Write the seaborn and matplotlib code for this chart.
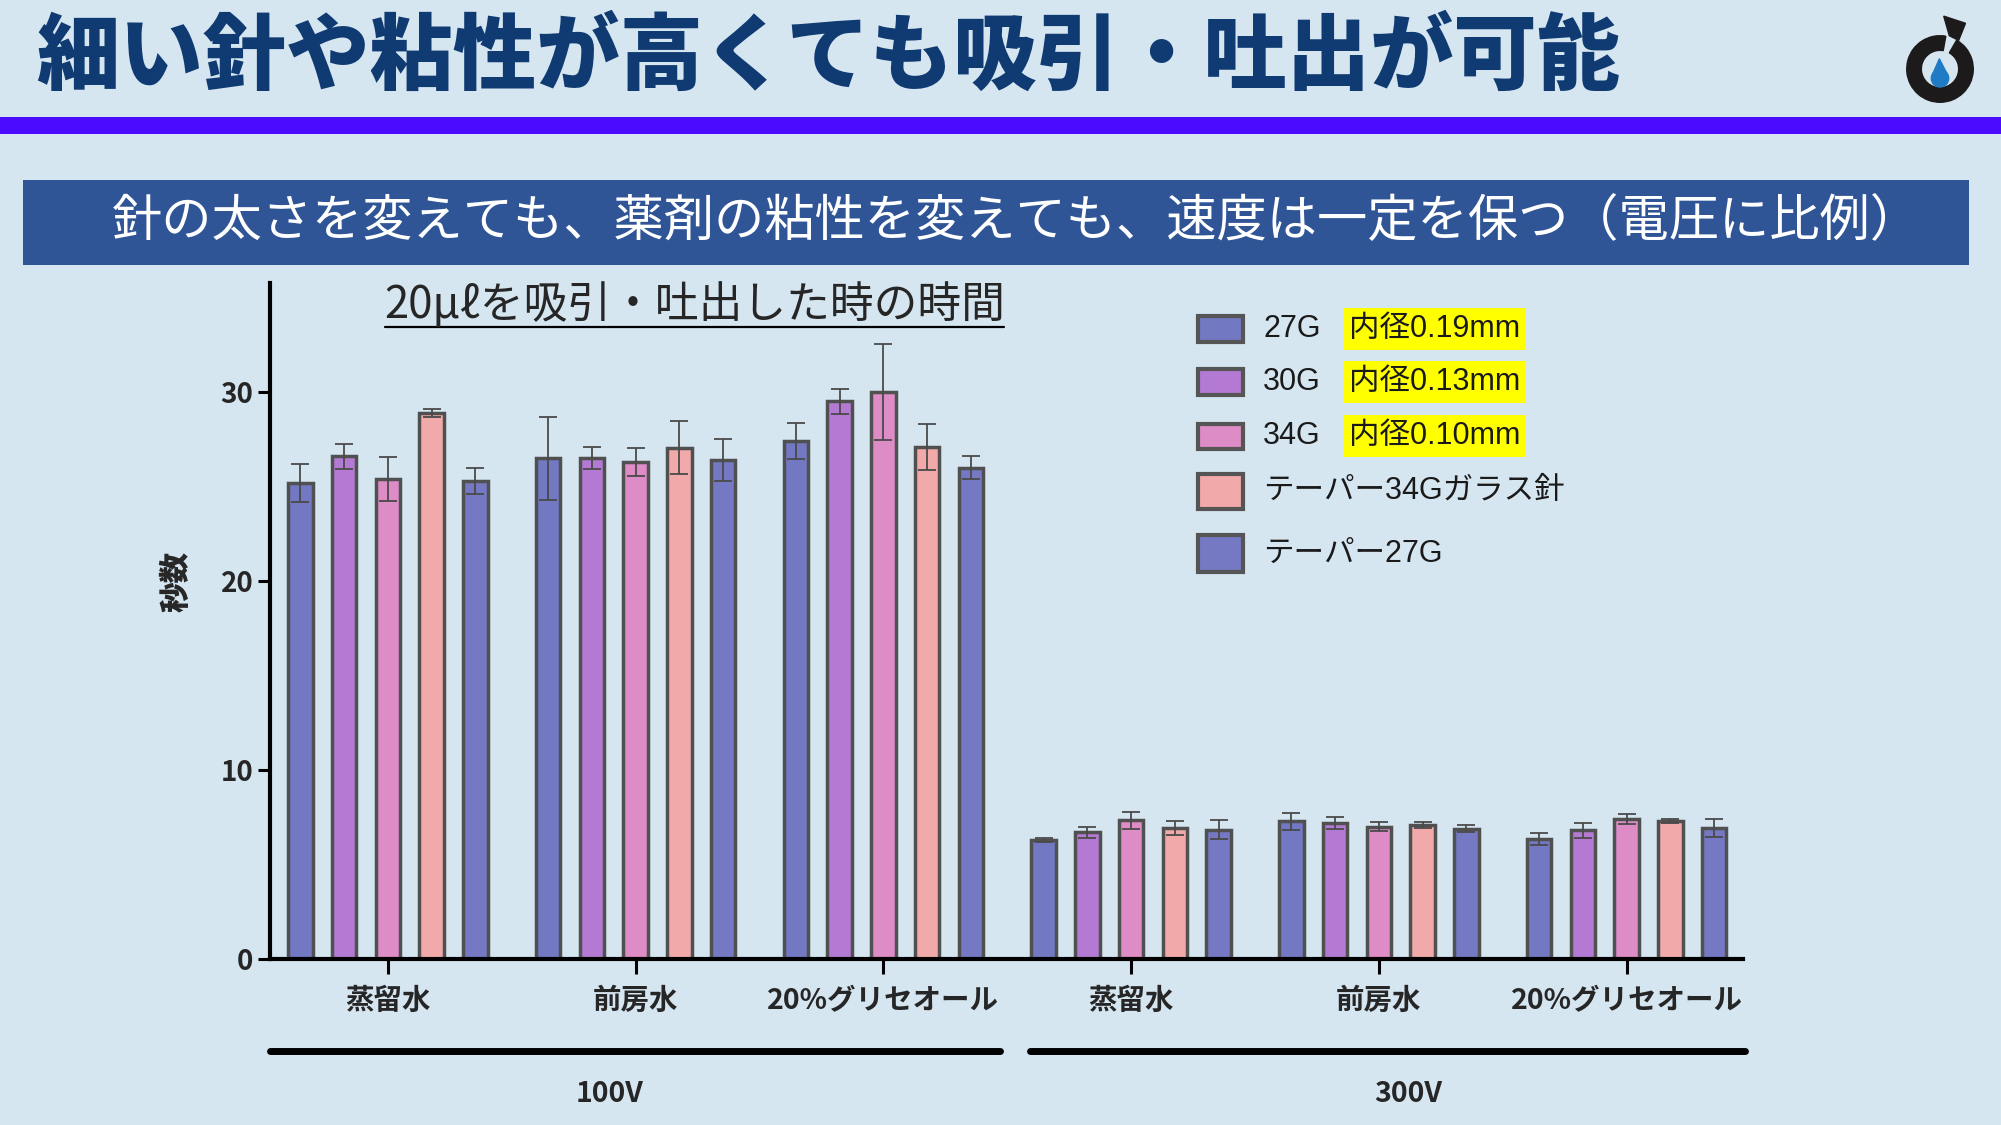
import numpy as np
import pandas as pd
import seaborn as sns
import matplotlib.pyplot as plt
from matplotlib.patches import Rectangle, Wedge, Circle, Polygon
from matplotlib.lines import Line2D

voltages = ['100V', '300V']
liquids = ['蒸留水', '前房水', '20%グリセオール']
needles = ['27G', '30G', '34G', 'テーパー34Gガラス針', 'テーパー27G']
inner_diam = ['内径0.19mm', '内径0.13mm', '内径0.10mm', '', '']
colors = ['#7378c2', '#b47ad3', '#dd8cc6', '#f2a9a9', '#7579c4']

# seconds for 20ul, per needle: 100V (3 liquids) then 300V (3 liquids)
sec_27g = [25.2, 26.5, 27.4, 6.3, 7.3, 6.35]
sec_30g = [26.6, 26.5, 29.5, 6.7, 7.2, 6.8]
sec_34g = [25.4, 26.3, 30.0, 7.35, 7.0, 7.4]
sec_t34 = [28.9, 27.05, 27.1, 6.95, 7.1, 7.3]
sec_t27 = [25.3, 26.4, 26.0, 6.85, 6.9, 6.95]

sd_27g = [1.0, 2.2, 0.95, 0.1, 0.45, 0.33]
sd_30g = [0.65, 0.57, 0.65, 0.3, 0.3, 0.4]
sd_34g = [1.15, 0.74, 2.55, 0.45, 0.23, 0.27]
sd_t34 = [0.2, 1.4, 1.2, 0.37, 0.17, 0.12]
sd_t27 = [0.67, 1.13, 0.62, 0.5, 0.2, 0.47]

yticks = [0, 10, 20, 30]

title = '細い針や粘性が高くても吸引・吐出が可能'
subtitle = '針の太さを変えても、薬剤の粘性を変えても、速度は一定を保つ（電圧に比例）'
chart_title = '20μℓを吸引・吐出した時の時間'

conds = [v + ' ' + l for v in voltages for l in liquids]
means = [sec_27g, sec_30g, sec_34g, sec_t34, sec_t27]
sds = [sd_27g, sd_30g, sd_34g, sd_t34, sd_t27]

rows = []
for n, vals in zip(needles, means):
    for c, v in zip(conds, vals):
        rows.append({'cond': c, 'needle': n, 'sec': v})
df = pd.DataFrame(rows)

sns.set_theme(style='white')
plt.rcParams['font.family'] = ['Noto Sans CJK JP', 'DejaVu Sans']
LEG_FONT = ['Liberation Sans', 'Noto Sans CJK JP', 'DejaVu Sans']

BG = '#d5e6f1'
W, H = 2001, 1125
def fx(x):
    return x / W
def fy(y):
    return 1 - y / H

fig = plt.figure(figsize=(W / 100, H / 100), dpi=100, facecolor=BG)

# header
fig.add_artist(Rectangle((0, fy(134)), 1, 17 / H, transform=fig.transFigure, color='#4a0bff', lw=0))
fig.text(fx(36), fy(58), title, fontsize=60, fontweight='heavy', color='#103b72', va='center', ha='left')
fig.add_artist(Rectangle((fx(23), fy(265)), (1969 - 23) / W, 85 / H, transform=fig.transFigure,
                         color='#2f5597', lw=0))
fig.text(fx(1016), fy(221), subtitle, fontsize=36.2, color='white', va='center', ha='center')

# logo
lax = fig.add_axes([fx(1883), fy(126), 114 / W, 114 / H])
lax.set_xlim(-1.833, 1.833)
lax.set_ylim(-1.833, 1.833)
lax.set_aspect('equal')
lax.axis('off')
lax.add_patch(Wedge((0, 0), 1.07, 80, 420, width=0.47, color='#1c1a1a'))
lax.add_patch(Polygon([(0.12, 1.7), (0.82, 1.47), (0.6, 0.92), (0.3, 1.07)], color='#1c1a1a'))
lax.add_patch(Circle((0, -0.3), 0.28, color='#1f7cc4'))
lax.add_patch(Polygon([(-0.26, -0.22), (0.26, -0.22), (-0.02, 0.33)], color='#1f7cc4'))

# chart
ax = fig.add_axes([fx(270), fy(959), (1743 - 270) / W, (959 - 283) / H])
ax.set_facecolor('none')
sns.barplot(data=df, x='cond', y='sec', hue='needle', order=conds, hue_order=needles,
            palette=colors, width=0.883, gap=0.44, errorbar=None, edgecolor='#505050',
            linewidth=2.5, saturation=1, legend=False, ax=ax)

bars = sorted(ax.patches, key=lambda p: p.get_x())
for k, p in enumerate(bars):
    gi, ni = k // 5, k % 5
    ax.errorbar(p.get_x() + p.get_width() / 2, p.get_height(), yerr=sds[ni][gi],
                fmt='none', ecolor='#4a4a4a', elinewidth=1.3, capsize=6.5, capthick=1.3, zorder=4)

ax.set_xlim(-0.476, 5.47)
ax.set_ylim(0, 35.77)
ax.set_yticks(yticks)
ax.set_xticks(range(len(conds)))
ax.set_xticklabels(liquids * 2)
ax.set_xlabel('')
ax.set_ylabel('')
for s in ['top', 'right']:
    ax.spines[s].set_visible(False)
for s in ['left', 'bottom']:
    ax.spines[s].set_linewidth(3)
    ax.spines[s].set_color('black')
ax.tick_params(axis='x', length=11, width=2.2, color='black', pad=9, bottom=True)
ax.tick_params(axis='y', length=9, width=2.2, color='black', pad=3, left=True)
for t in ax.get_xticklabels():
    t.set_fontsize(20.5)
    t.set_fontweight('bold')
for t in ax.get_yticklabels():
    t.set_fontsize(20)
    t.set_fontweight('bold')

# voltage brackets
tr = ax.get_xaxis_transform()
ax.plot([-0.476, 2.47], [-0.136, -0.136], transform=tr, clip_on=False, lw=5, color='black',
        solid_capstyle='round')
ax.plot([2.59, 5.48], [-0.136, -0.136], transform=tr, clip_on=False, lw=5, color='black',
        solid_capstyle='round')
ax.text(0.895, -0.2, voltages[0], transform=tr, ha='center', va='center', fontsize=20.5, fontweight='bold')
ax.text(4.12, -0.2, voltages[1], transform=tr, ha='center', va='center', fontsize=20.5, fontweight='bold')

fig.text(fx(176), fy(582), '秒数', rotation=90, fontsize=22, fontweight='heavy', ha='center', va='center')

fig.text(fx(695), fy(305), chart_title, fontsize=31.5, ha='center', va='center')
fig.add_artist(Line2D([fx(385), fx(1004)], [fy(327), fy(327)], transform=fig.transFigure, lw=1.6, color='black'))

# legend
row_y = [329, 382, 436, 491, 554]
box_h = [25, 25, 25, 35, 37]
for n, note, c, y, h in zip(needles, inner_diam, colors, row_y, box_h):
    fig.add_artist(Rectangle((fx(1198), fy(y + h / 2)), 45 / W, h / H, transform=fig.transFigure,
                             facecolor=c, edgecolor='#555555', lw=3))
    fig.text(fx(1263), fy(y), n, fontsize=22, family=LEG_FONT, ha='left', va='center', color='#1a1a1a')
    if note:
        fig.text(fx(1349), fy(y), note, fontsize=22, family=LEG_FONT, ha='left', va='center',
                 color='#1a1a1a',
                 bbox=dict(boxstyle='square,pad=0.2', facecolor='#ffff00', edgecolor='none'))

fig.savefig('out.png', dpi=100, facecolor=BG)
